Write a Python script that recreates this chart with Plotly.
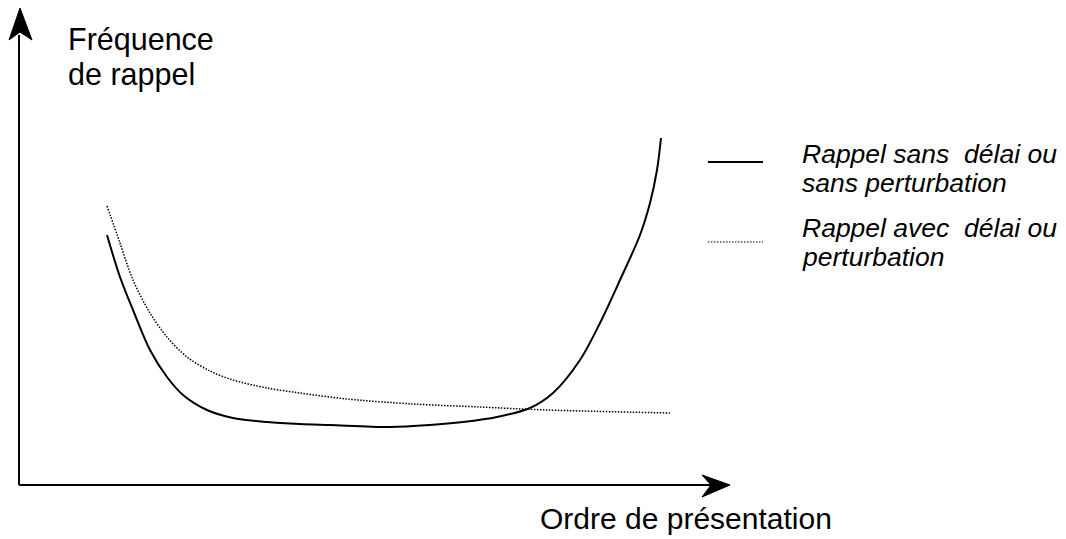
import plotly.graph_objects as go

# Data (arbitrary units: x = ordre de présentation, y = fréquence de rappel)
ordre_sans = [88, 101, 114, 131, 148, 164, 188, 214, 248, 281, 311, 371, 411, 444, 478, 511, 534,
              561, 581, 601, 621, 631, 638, 642]
freq_sans = [250, 208, 175, 135, 108, 90, 75, 67, 63, 61, 60, 58, 60, 63, 68, 77, 92,
             125, 162, 205, 250, 282, 315, 347]

ordre_avec = [88, 101, 114, 131, 148, 168, 191, 214, 248, 281, 328, 394, 461, 528, 651]
freq_avec = [279, 242, 205, 172, 148, 128, 114, 105, 97, 92, 86, 81, 78, 75, 72]

y_label = ["Fréquence", "de rappel"]
x_label = "Ordre de présentation"
legend_sans = ["Rappel sans\u00a0 délai ou", "sans perturbation"]
legend_avec = ["Rappel avec\u00a0 délai ou", "perturbation"]

FONT = "Liberation Sans, Arial, sans-serif"

fig = go.Figure()
fig.add_trace(go.Scatter(x=ordre_sans, y=freq_sans, mode="lines",
                         line=dict(color="black", width=2, shape="spline", smoothing=0.9),
                         hoverinfo="skip", showlegend=False))
fig.add_trace(go.Scatter(x=ordre_avec, y=freq_avec, mode="lines",
                         line=dict(color="black", width=1.5, shape="spline", smoothing=0.9, dash="1.5px,1.5px"),
                         hoverinfo="skip", showlegend=False))
# legend samples
fig.add_trace(go.Scatter(x=[689, 744], y=[323, 323], mode="lines",
                         line=dict(color="black", width=2), hoverinfo="skip", showlegend=False))
fig.add_trace(go.Scatter(x=[689, 744], y=[243, 243], mode="lines",
                         line=dict(color="black", width=1.2, dash="1.5px,1.5px"), hoverinfo="skip", showlegend=False))

shapes = [
    # axes lines
    dict(type="line", xref="x", yref="y", x0=0, y0=0, x1=0, y1=450, line=dict(color="black", width=2)),
    dict(type="line", xref="x", yref="y", x0=0, y0=0, x1=695, y1=0, line=dict(color="black", width=2)),
    # arrowheads
    dict(type="path", xref="x", yref="y", path="M 1 477 L -10 445 L 1 453 L 13 445 Z",
         fillcolor="black", line=dict(color="black", width=1)),
    dict(type="path", xref="x", yref="y", path="M 711 0 L 683 10 L 692 0 L 683 -12 Z",
         fillcolor="black", line=dict(color="black", width=1)),
]

ann = []
def txt(x, y, s, size, italic=False, anchor="left"):
    ann.append(dict(x=x, y=y, xref="x", yref="y", text=s, showarrow=False,
                    xanchor=anchor, yanchor="middle",
                    font=dict(family=FONT, size=size, color="black",
                              style="italic" if italic else "normal")))

txt(47, 446, y_label[0], 30.5)
txt(47, 411, y_label[1], 30.5)
txt(519, -33, x_label, 30)
txt(781, 331, legend_sans[0], 26.5, True)
txt(781, 302, legend_sans[1], 26.5, True)
txt(781, 257, legend_avec[0], 26.5, True)
txt(781, 228, legend_avec[1], 26.5, True)

# The page body adds an 8 px margin at top-left; figure sized to reach the window edge
fig.update_layout(
    width=1058, height=531,
    margin=dict(l=0, r=0, t=0, b=0),
    paper_bgcolor="white", plot_bgcolor="white",
    xaxis=dict(range=[-11, 1047], visible=False, fixedrange=True),
    yaxis=dict(range=[-54, 477], visible=False, fixedrange=True),
    shapes=shapes, annotations=ann,
)
fig.write_html("out.html")
